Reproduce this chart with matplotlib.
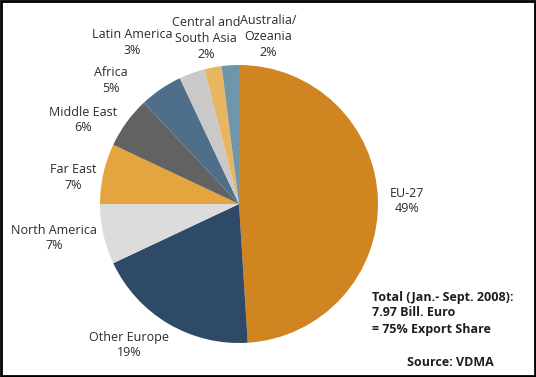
import matplotlib.pyplot as plt
from matplotlib.patches import Rectangle

plt.rcParams['font.family'] = ['Open Sans', 'DejaVu Sans']

# data
regions = ['EU-27', 'Other Europe', 'North America', 'Far East', 'Middle East',
           'Africa', 'Latin America', 'Central and\nSouth Asia', 'Australia/\nOzeania']
shares = [49, 19, 7, 7, 6, 5, 3, 2, 2]
colors = ['#D08521', '#2E4A66', '#DCDCDC', '#E5A53E', '#626262',
          '#4E6E89', '#C9C9C9', '#E8B662', '#6F95AB']

W, H = 536, 377
fig = plt.figure(figsize=(W / 100, H / 100), dpi=100)
fig.patch.set_facecolor('white')

# pie axes (center 239,204 px, radius 139 px)
cx, cy, r = 239, 204, 139
ax = fig.add_axes([(cx - r) / W, (H - cy - r) / H, 2 * r / W, 2 * r / H])
ax.pie(shares, colors=colors, startangle=90, counterclock=False,
       wedgeprops=dict(linewidth=0))
ax.set_xlim(-1, 1)
ax.set_ylim(-1, 1)
ax.set_aspect('equal')
ax.axis('off')

# label positions in pixels (x center, y of first line)
label_pos = [(407, 193), (129, 337), (54, 230), (73, 170), (83, 112),
             (111, 73), (132, 35), (206, 23), (268, 21)]

def px(x, y):
    return x / W, 1 - y / H

for name, val, (lx, ly) in zip(regions, shares, label_pos):
    lines = name.split('\n') + [f'{val}%']
    for i, line in enumerate(lines):
        fig.text(*px(lx, ly + i * 15.5), line, ha='center', va='center',
                 fontsize=9, color='#2b2b2b')

total_lines = ['Total (Jan.- Sept. 2008):', '7.97 Bill. Euro', '= 75% Export Share']
for i, line in enumerate(total_lines):
    fig.text(*px(372, 297 + i * 16), line, ha='left', va='center',
             fontsize=9, fontweight='bold', color='#1e1e1e')
fig.text(*px(494, 362), 'Source: VDMA', ha='right', va='center',
         fontsize=9, fontweight='bold', color='#1e1e1e')

# black frame
fig.patches.append(Rectangle((0.002, 0.003), 0.996, 0.994, transform=fig.transFigure,
                             fill=False, edgecolor='black', linewidth=2))

fig.savefig('out.png', dpi=100)
